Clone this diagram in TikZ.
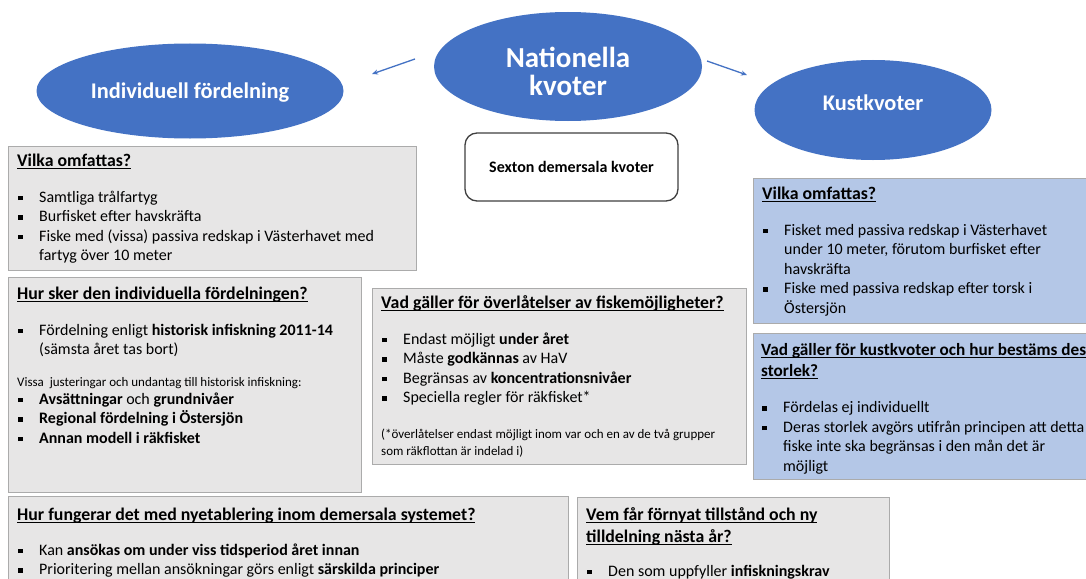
\documentclass[tikz,border=0pt]{standalone}
\usepackage{fontspec}
\setmainfont{Carlito}
\usetikzlibrary{shapes.geometric,arrows.meta}
\definecolor{offblue}{HTML}{4472C4}
\definecolor{boxgray}{HTML}{E7E6E6}
\definecolor{boxblue}{HTML}{B4C7E7}
\definecolor{boxline}{HTML}{ABABAB}
\definecolor{darkline}{HTML}{404040}
\newsavebox\headbox
\newcommand\boxhead[2][17.8]{\leavevmode\hbox{\fontsize{#1}{19.5}\selectfont\bfseries\sbox\headbox{#2}\rlap{\rule[-2.5pt]{\wd\headbox}{1pt}}\usebox\headbox}}
\newcommand\bulsq{\makebox[22pt][l]{\hspace{1pt}\rule[2pt]{4.5pt}{4.5pt}}}
\newcommand\contind{\hspace*{22pt}}
\newcommand\smalltxt{\fontsize{13}{17}\selectfont}
\begin{document}
\begin{tikzpicture}[x=1pt,y=-1pt,
    ell/.style={ellipse,fill=offblue,inner sep=0pt},
    ellbl/.style={text=white,align=center,inner sep=0pt,font=\fontsize{22.4}{26}\selectfont\bfseries},
    gbox/.style={anchor=north west,draw=boxline,fill=boxgray,line width=1.2pt,inner sep=0pt},
    bbox/.style={gbox,fill=boxblue},
    txt/.style={anchor=base west,align=flush left,inner sep=0pt,text width=#1,font=\fontsize{16}{19.5}\selectfont},
    txt/.default=420,
    arr/.style={draw=offblue,line width=1.3pt,-{Stealth[length=6pt,width=5pt]}}]
    \useasboundingbox (0,0) rectangle (1086,578);
    \fill[white] (0,0) rectangle (1086,578);
    \clip (0,0) rectangle (1086,578);

    \node[ell,minimum width=307,minimum height=95] (ind) at (190,91) {};
    \node[ell,minimum width=268,minimum height=109] (nat) at (568,66.5) {};
    \node[ell,minimum width=237,minimum height=100] (kust) at (873,110) {};
    \node[ellbl] (indlbl) at (190,93) {Individuell fördelning};
    \node[ellbl,font=\fontsize{29}{28}\selectfont\bfseries] (natlbl) at (568,71) {Nationella\\kvoter};
    \node[ellbl] (kustlbl) at (873,103) {Kustkvoter};
    \node[draw=darkline,line width=1.3pt,rounded corners=12pt,fill=white,minimum width=213,minimum height=68,font=\fontsize{16}{19}\selectfont\bfseries] (sexton) at (571.5,167) {Sexton demersala kvoter};

    \coordinate (natl) at (415,59);
    \coordinate (indr) at (372,74);
    \coordinate (natr) at (707,61);
    \coordinate (kustl) at (747,75);
    \draw[arr] (natl) -- (indr);
    \draw[arr] (natr) -- (kustl);

    \node[gbox,minimum width=408,minimum height=124] (vilka) at (8,146) {};
    \node[gbox,minimum width=353,minimum height=215] (hur) at (8,277) {};
    \node[gbox,minimum width=374,minimum height=176] (overl) at (372,288) {};
    \node[bbox,minimum width=360,minimum height=145] (kvilka) at (753,178) {};
    \node[bbox,minimum width=360,minimum height=146] (kvad) at (753,333) {};
    \node[gbox,minimum width=560,minimum height=100] (nyetab) at (8,496) {};
    \node[gbox,minimum width=312,minimum height=100] (fornyat) at (577,497) {};

    \node[txt] (vilkatxt) at (17,166) {\boxhead{Vilka omfattas?}\\[16.5pt]
        \bulsq Samtliga trålfartyg\\
        \bulsq Burfisket efter havskräfta\\
        \bulsq Fiske med (vissa) passiva redskap i Västerhavet med\\
        \contind fartyg över 10 meter};
    \node[txt] (hurtxt) at (17,299) {\boxhead{Hur sker den individuella fördelningen?}\\[16.5pt]
        \bulsq Fördelning enligt \textbf{historisk infiskning 2011-14}\\
        \contind (sämsta året tas bort)\\[12pt]
        {\smalltxt Vissa\ \ justeringar och undantag till historisk infiskning:}\\[-1.5pt]
        \bulsq \textbf{Avsättningar} och \textbf{grundnivåer}\\
        \bulsq \textbf{Regional fördelning i Östersjön}\\
        \bulsq \textbf{Annan modell i räkfisket}};
    \node[txt] (overltxt) at (381,308) {\boxhead{Vad gäller för överlåtelser av fiskemöjligheter?}\\[16.5pt]
        \bulsq Endast möjligt \textbf{under året}\\
        \bulsq Måste \textbf{godkännas} av HaV\\
        \bulsq Begränsas av \textbf{koncentrationsnivåer}\\
        \bulsq Speciella regler för räkfisket*\\[16pt]
        {\smalltxt (*överlåtelser endast möjligt inom var och en av de två grupper}\\[-2.5pt]
        {\smalltxt som räkflottan är indelad i)}};
    \node[txt] (kvilkatxt) at (762,199) {\boxhead{Vilka omfattas?}\\[16.5pt]
        \bulsq Fisket med passiva redskap i Västerhavet\\
        \contind under 10 meter, förutom burfisket efter\\
        \contind havskräfta\\
        \bulsq Fiske med passiva redskap efter torsk i\\
        \contind Östersjön};
    \node[txt] (kvadtxt) at (761,355) {\boxhead[17.2]{Vad gäller för kustkvoter och hur bestäms dess}\\[1.5pt]
        \boxhead[17.2]{storlek?}\\[17pt]
        \bulsq Fördelas ej individuellt\\
        \bulsq Deras storlek avgörs utifrån principen att detta\\
        \contind fiske inte ska begränsas i den mån det är\\
        \contind möjligt};
    \node[txt=560] (nyetabtxt) at (17,520) {\boxhead{Hur fungerar det med nyetablering inom demersala systemet?}\\[15.5pt]
        \bulsq Kan \textbf{ansökas om under viss tidsperiod året innan}\\
        \bulsq Prioritering mellan ansökningar görs enligt \textbf{särskilda principer}};
    \node[txt] (fornyattxt) at (586,520) {\boxhead{Vem får förnyat tillstånd och ny}\\[2.5pt]
        \boxhead{tilldelning nästa år?}\\[14.5pt]
        \bulsq Den som uppfyller \textbf{infiskningskrav}};
\end{tikzpicture}
\end{document}
